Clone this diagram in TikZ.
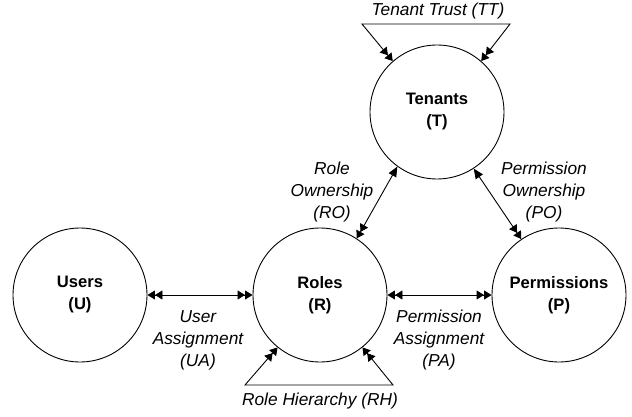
\documentclass[tikz,border=0pt]{standalone}
\usepackage{fontspec}
\setmainfont{Liberation Sans}
\usetikzlibrary{arrows.meta}
\begin{document}
\begin{tikzpicture}[x=1pt,y=-1pt,
  ent/.style={circle,draw,line width=0.9pt,minimum size=134pt,inner sep=0pt,
    font=\fontsize{16.6}{22}\selectfont\bfseries,align=center},
  lab/.style={font=\fontsize{17.3}{22}\selectfont\itshape,align=center,inner sep=0pt},
  conn/.style={line width=0.9pt},
  dd/.style={conn,{Triangle[length=7.5pt,width=9pt]Triangle[length=7.5pt,width=9pt]}-{Triangle[length=7.5pt,width=9pt]Triangle[length=7.5pt,width=9pt]}},
  sd/.style={conn,{Triangle[length=10pt,width=8.5pt]}-{Triangle[length=7.5pt,width=9pt]Triangle[length=7.5pt,width=9pt]}}
]
\useasboundingbox (0,0) rectangle (632,417);
\node[ent] (T) at (437,112) {Tenants\\(T)};
\node[ent] (U) at (80,295) {Users\\(U)};
\node[ent] (R) at (320,295) {Roles\\(R)};
\node[ent] (P) at (559,295) {Permissions\\(P)};

\coordinate (tl) at (362,24);
\coordinate (tr) at (510,24);
\coordinate (rl) at (245,385);
\coordinate (rr) at (393,385);

\draw[dd] (T.131) -- (tl) -- (tr) -- (T.49);
\draw[dd] (R.231) -- (rl) -- (rr) -- (R.309);
\draw[dd] (U.east) -- (R.west);
\draw[dd] (R.east) -- (P.west);
\draw[sd] (T.234) -- (R.57);
\draw[sd] (T.303) -- (P.124);

\node[lab] (tt) at (438,11) {Tenant Trust (TT)};
\node[lab] (ro) at (332,192) {Role\\Ownership\\(RO)};
\node[lab] (po) at (544,192) {Permission\\Ownership\\(PO)};
\node[lab] (ua) at (198,340) {User\\Assignment\\(UA)};
\node[lab] (pa) at (439,340) {Permission\\Assignment\\(PA)};
\node[lab] (rh) at (320,401) {Role Hierarchy (RH)};
\end{tikzpicture}
\end{document}
